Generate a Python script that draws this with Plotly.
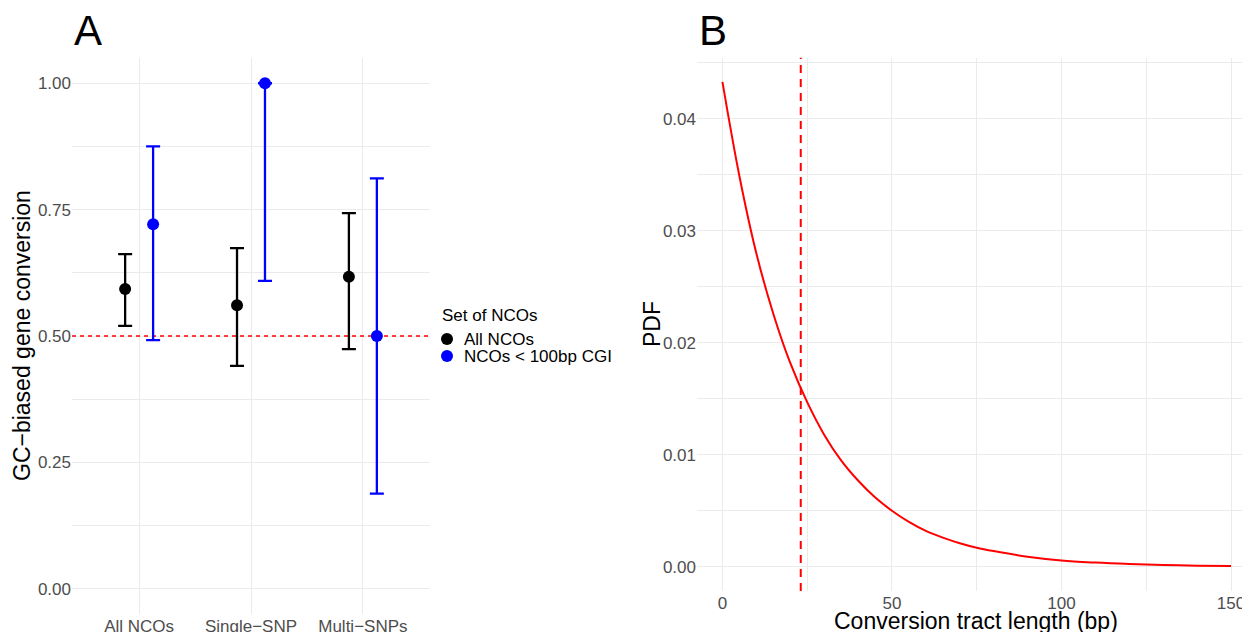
import plotly.graph_objects as go

# ---------------- data ----------------
categories = ["All NCOs", "Single\u2212SNP", "Multi\u2212SNPs"]
series_names = ["All NCOs", "NCOs < 100bp CGI"]
legend_title = "Set of NCOs"
all_est = [0.593, 0.561, 0.617]
all_lo = [0.520, 0.441, 0.474]
all_hi = [0.662, 0.674, 0.743]
cgi_est = [0.721, 1.000, 0.500]
cgi_lo = [0.492, 0.609, 0.188]
cgi_hi = [0.875, 1.000, 0.812]
null_value = 0.5

tract_len = [0, 5, 10, 15, 20, 25, 30, 35, 40, 45, 50, 55, 60, 65, 70, 75, 80, 90,
             100, 110, 120, 130, 140, 150]
pdf_vals = [0.0433, 0.0349, 0.0280, 0.0226, 0.0182, 0.0147, 0.0118, 0.0095, 0.0077,
            0.0062, 0.0050, 0.0040, 0.0032, 0.0026, 0.0021, 0.0017, 0.0014, 0.0009,
            0.00056, 0.00037, 0.00024, 0.00015, 0.00010, 0.00006]
mean_len = 23.1

y_ticks_a = [0, 0.25, 0.5, 0.75, 1.0]
y_ticks_b = [0, 0.01, 0.02, 0.03, 0.04]
x_ticks_b = [0, 50, 100, 150]

# ---------------- styling ----------------
OFF = 8  # page body margin of the html page
W, H = 1250 - OFF, 632 - OFF
FONT = "Liberation Sans, Arial, sans-serif"
GRID = "#ebebeb"
TICKC = "#4d4d4d"
dodge = 0.125
colors = ["#000000", "#0000ff"]


def px_x(p):
    return (p - OFF) / W


def px_y(p):
    return 1 - (p - OFF) / H


fig = go.Figure()

pos = list(range(1, len(categories) + 1))
for name, est, lo, hi, col, off in [
    (series_names[0], all_est, all_lo, all_hi, colors[0], -dodge),
    (series_names[1], cgi_est, cgi_lo, cgi_hi, colors[1], dodge),
]:
    fig.add_trace(go.Scatter(
        x=[p + off for p in pos], y=est, mode="markers", name=name,
        marker=dict(color=col, size=12),
        error_y=dict(type="data", symmetric=False,
                     array=[h - e for h, e in zip(hi, est)],
                     arrayminus=[e - l for e, l in zip(est, lo)],
                     color=col, thickness=2.3, width=7),
        xaxis="x", yaxis="y", showlegend=False,
    ))

fig.add_trace(go.Scatter(
    x=tract_len, y=pdf_vals, mode="lines", line=dict(color="#ff0000", width=2, shape="spline"),
    showlegend=False, xaxis="x2", yaxis="y2",
))

axis_common = dict(showline=False, zeroline=False, ticks="", gridcolor=GRID, gridwidth=1,
                   tickfont=dict(family=FONT, size=17, color=TICKC), automargin=False)

fig.update_layout(
    width=W, height=H, autosize=False,
    margin=dict(l=0, r=0, t=0, b=0),
    paper_bgcolor="white", plot_bgcolor="white",
    font=dict(family=FONT, color="#000000"),
    showlegend=False,
    xaxis=dict(domain=[px_x(72), px_x(430)], range=[0.4, 3.6],
               tickmode="array", tickvals=pos, ticktext=categories,
               showgrid=True, **axis_common),
    yaxis=dict(domain=[px_y(614), px_y(58)], range=[-0.05, 1.05],
               tickmode="array", tickvals=y_ticks_a, tickformat=".2f",
               showgrid=True,
               minor=dict(tickvals=[0.125, 0.375, 0.625, 0.875], showgrid=True,
                          gridcolor=GRID, gridwidth=0.6),
               **axis_common),
    xaxis2=dict(domain=[px_x(697), 1.0], range=[-7.5, 155.6], anchor="y2",
                tickmode="array", tickvals=x_ticks_b, showgrid=True,
                minor=dict(tickvals=[25, 75, 125], showgrid=True,
                           gridcolor=GRID, gridwidth=0.6),
                **axis_common),
    yaxis2=dict(domain=[px_y(591), px_y(57.7)], range=[-0.002165, 0.045465], anchor="x2",
                tickmode="array", tickvals=y_ticks_b, tickformat=".2f", showgrid=True,
                minor=dict(tickvals=[0.005, 0.015, 0.025, 0.035, 0.045], showgrid=True,
                           gridcolor=GRID, gridwidth=0.6),
                **axis_common),
)

# reference lines
fig.add_shape(type="line", xref="x", yref="y", x0=0.4, x1=3.6, y0=null_value, y1=null_value,
              line=dict(color="#ff0000", width=1.5, dash="4px,4px"), layer="between")
fig.add_shape(type="line", xref="x2", yref="y2 domain", x0=mean_len, x1=mean_len, y0=0, y1=1,
              line=dict(color="#ff0000", width=2, dash="8px,6px"), layer="above")

# legend (drawn manually to match compact spacing)
fig.add_annotation(text=legend_title, x=px_x(440), y=px_y(315), xref="paper", yref="paper",
                   xanchor="left", yanchor="middle", showarrow=False,
                   font=dict(family=FONT, size=17, color="#000000"))
for i, (name, col) in enumerate(zip(series_names, colors)):
    yc = 339 + 17 * i
    fig.add_shape(type="circle", xref="paper", yref="paper",
                  x0=px_x(447 - 6), x1=px_x(447 + 6), y0=px_y(yc + 6), y1=px_y(yc - 6),
                  fillcolor=col, line=dict(width=0))
    fig.add_annotation(text=name, x=px_x(462), y=px_y(yc), xref="paper", yref="paper",
                       xanchor="left", yanchor="middle", showarrow=False,
                       font=dict(family=FONT, size=17, color="#000000"))

# titles and axis titles
fig.add_annotation(text="A", x=px_x(72), y=px_y(31), xref="paper", yref="paper",
                   xanchor="left", yanchor="middle", showarrow=False,
                   font=dict(family=FONT, size=42, color="#000000"))
fig.add_annotation(text="B", x=px_x(697), y=px_y(31), xref="paper", yref="paper",
                   xanchor="left", yanchor="middle", showarrow=False,
                   font=dict(family=FONT, size=42, color="#000000"))
fig.add_annotation(text="GC\u2212biased gene conversion", x=px_x(22), y=px_y(336),
                   xref="paper", yref="paper", textangle=-90, showarrow=False,
                   xanchor="center", yanchor="middle",
                   font=dict(family=FONT, size=23, color="#000000"))
fig.add_annotation(text="PDF", x=px_x(652), y=px_y(324),
                   xref="paper", yref="paper", textangle=-90, showarrow=False,
                   xanchor="center", yanchor="middle",
                   font=dict(family=FONT, size=23, color="#000000"))
fig.add_annotation(text="Conversion tract length (bp)", x=px_x(976), y=px_y(621),
                   xref="paper", yref="paper", showarrow=False,
                   xanchor="center", yanchor="middle",
                   font=dict(family=FONT, size=23, color="#000000"))

fig.write_html("out.html")
